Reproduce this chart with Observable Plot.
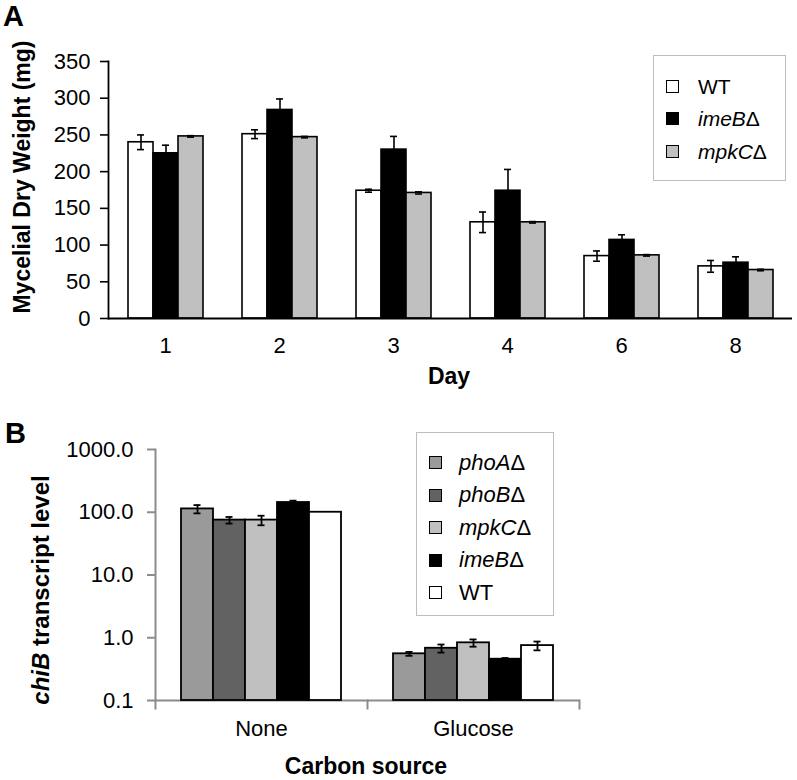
<!DOCTYPE html>
<html>
<head>
<meta charset="utf-8">
<script src="https://cdn.jsdelivr.net/npm/d3@7"></script>
<script src="https://cdn.jsdelivr.net/npm/@observablehq/plot@0.6"></script>
<style>
  body { margin: 0; background: white; }
  #root { position: relative; width: 797px; height: 780px; font-family: "Liberation Sans", Arial, sans-serif; color: black; overflow: hidden; }
  .abs { position: absolute; white-space: nowrap; line-height: 1; }
  .legend { position: absolute; border: 1.5px solid #bdbdbd; box-sizing: border-box; background: white; }
  .row { position: absolute; display: flex; align-items: center; }
  .sw { border: 1.5px solid black; box-sizing: border-box; }
</style>
</head>
<body>
<div id="root">
  <div id="plotA" class="abs" style="left:0;top:0"></div>
  <div id="plotB" class="abs" style="left:0;top:380px"></div>
</div>
<script>
// ---------- Panel A data ----------
const days = ["1", "2", "3", "4", "6", "8"];
const strainsA = ["WT", "imeBΔ", "mpkCΔ"];
const colorsA = ["white", "black", "#c0c0c0"];
const wtWeight = [240, 251, 174, 131, 85, 71];
const wtWeightErr = [10, 6, 2, 14, 7, 8];
const imeBWeight = [225, 284, 230, 174, 107, 76];
const imeBWeightErr = [11, 15, 18, 29, 7, 8];
const mpkCWeight = [248, 247, 171, 131, 86, 66];
const mpkCWeightErr = [1, 1, 1.5, 1, 1, 1];
const yTicksA = [0, 50, 100, 150, 200, 250, 300, 350];

// ---------- Panel B data ----------
const sources = ["None", "Glucose"];
const strainsB = ["phoAΔ", "phoBΔ", "mpkCΔ", "imeBΔ", "WT"];
const colorsB = ["#9a9a9a", "#626262", "#c0c0c0", "black", "white"];
const phoALevel = [113, 0.555];
const phoALevelErr = [17, 0.04];
const phoBLevel = [75, 0.68];
const phoBLevelErr = [9, 0.1];
const mpkCLevel = [75, 0.83];
const mpkCLevelErr = [13, 0.11];
const imeBLevel = [143, 0.455];
const imeBLevelErr = [10, 0.02];
const wtLevel = [100, 0.75];
const wtLevelErr = [0, 0.12];
const yTicksB = [0.1, 1, 10, 100, 1000];

const valsA = [wtWeight, imeBWeight, mpkCWeight];
const errsA = [wtWeightErr, imeBWeightErr, mpkCWeightErr];
const rowsA = days.flatMap((d, i) => strainsA.map((s, j) => ({day: d, strain: s, value: valsA[j][i], err: errsA[j][i]})));

const valsB = [phoALevel, phoBLevel, mpkCLevel, imeBLevel, wtLevel];
const errsB = [phoALevelErr, phoBLevelErr, mpkCLevelErr, imeBLevelErr, wtLevelErr];
const rowsB = sources.flatMap((c, i) => strainsB.map((s, j) => ({source: c, strain: s, value: valsB[j][i], err: errsB[j][i]})));

const font = "'Liberation Sans', Arial, sans-serif";

const plotA = Plot.plot({
  width: 797, height: 370,
  marginLeft: 106, marginRight: 4, marginTop: 61, marginBottom: 52,
  style: {fontFamily: font, fontSize: "22px", color: "black", background: "white", overflow: "visible"},
  fx: {domain: days, padding: 0, axis: null},
  x: {domain: strainsA, paddingInner: 0, paddingOuter: 0.77, axis: null},
  y: {domain: [0, 350], axis: null},
  color: {domain: strainsA, range: colorsA},
  marks: [
    Plot.barY(rowsA, {fx: "day", x: "strain", y: "value", fill: "strain", stroke: "black", strokeWidth: 1.6}),
    Plot.ruleX(rowsA, {fx: "day", x: "strain", y1: d => d.value - d.err, y2: d => d.value + d.err, stroke: "black", strokeWidth: 1.6}),
    Plot.tickY(rowsA, {fx: "day", x: "strain", y: d => d.value + d.err, inset: 9, stroke: "black", strokeWidth: 1.6}),
    Plot.tickY(rowsA, {fx: "day", x: "strain", y: d => d.value - d.err, inset: 9, stroke: "black", strokeWidth: 1.6}),
    Plot.ruleY([0], {stroke: "black", strokeWidth: 1.8}),
    Plot.frame({anchor: "left", facetAnchor: "left", stroke: "black", strokeWidth: 1.8}),
    Plot.axisY({ticks: yTicksA, tickSize: 8, tickPadding: 10, fontSize: 22, stroke: "black", strokeWidth: 1.6, label: null}),
    Plot.axisFx({anchor: "bottom", tickSize: 0, tickPadding: 19, fontSize: 22, label: null})
  ]
});
document.getElementById("plotA").appendChild(plotA);

const plotB = Plot.plot({
  width: 797, height: 400,
  marginLeft: 155, marginRight: 218, marginTop: 69, marginBottom: 80,
  style: {fontFamily: font, fontSize: "22px", color: "black", background: "white", overflow: "visible"},
  fx: {domain: sources, padding: 0, axis: null},
  x: {domain: strainsB, paddingInner: 0, paddingOuter: 0.75, axis: null},
  y: {type: "log", domain: [yTicksB[0], yTicksB[yTicksB.length - 1]], axis: null},
  color: {domain: strainsB, range: colorsB},
  marks: [
    Plot.ruleY([yTicksB[0]], {stroke: "#8c8c8c", strokeWidth: 2}),
    Plot.frame({anchor: "left", insetTop: 251, insetBottom: -8, stroke: "#8c8c8c", strokeWidth: 2}),
    Plot.frame({anchor: "right", facetAnchor: "right", insetTop: 251, insetBottom: -8, stroke: "#8c8c8c", strokeWidth: 2}),
    Plot.frame({anchor: "left", facetAnchor: "left", stroke: "#8c8c8c", strokeWidth: 2}),
    Plot.barY(rowsB, {fx: "source", x: "strain", y1: yTicksB[0], y2: "value", fill: "strain", stroke: "black", strokeWidth: 1.8}),
    Plot.ruleX(rowsB.filter(d => d.err > 0), {fx: "source", x: "strain", y1: d => d.value - d.err, y2: d => d.value + d.err, stroke: "black", strokeWidth: 1.8}),
    Plot.tickY(rowsB.filter(d => d.err > 0), {fx: "source", x: "strain", y: d => d.value + d.err, inset: 12.5, stroke: "black", strokeWidth: 1.8}),
    Plot.tickY(rowsB.filter(d => d.err > 0), {fx: "source", x: "strain", y: d => d.value - d.err, inset: 12.5, stroke: "black", strokeWidth: 1.8}),
    Plot.axisY({ticks: yTicksB, tickFormat: d3.format(".1f"), tickSize: 8, tickPadding: 14, fontSize: 22, stroke: "#8c8c8c", strokeWidth: 2, fill: "black", label: null}),
    Plot.axisFx({anchor: "bottom", tickSize: 0, tickPadding: 20, fontSize: 22, label: null})
  ]
});
document.getElementById("plotB").appendChild(plotB);

// ---------- HTML text and legends ----------
const root = document.getElementById("root");
function addText(html, style) {
  const el = document.createElement("div");
  el.className = "abs";
  el.innerHTML = html;
  el.setAttribute("style", style);
  root.appendChild(el);
  return el;
}
addText("A", "left:3px;top:2px;font-size:29px;font-weight:bold;");
addText("B", "left:5px;top:419px;font-size:29px;font-weight:bold;");
addText("Mycelial Dry Weight (mg)", "left:22px;top:177px;font-size:23px;font-weight:bold;transform:translate(-50%,-50%) rotate(-90deg);");
addText("Day", "left:449px;top:365px;font-size:23px;font-weight:bold;transform:translateX(-50%);");
addText("<i>chiB</i> transcript level", "left:41px;top:590px;font-size:24px;font-weight:bold;transform:translate(-50%,-50%) rotate(-90deg);");
addText("Carbon source", "left:366px;top:755px;font-size:23px;font-weight:bold;transform:translateX(-50%);");

function label(s) {
  return s.endsWith("Δ") ? "<i>" + s.slice(0, -1) + "</i>Δ" : s;
}
function legend(strains, colors, box, opts) {
  const lg = document.createElement("div");
  lg.className = "legend";
  lg.style.left = box.left + "px"; lg.style.top = box.top + "px";
  lg.style.width = box.width + "px"; lg.style.height = box.height + "px";
  strains.forEach((s, i) => {
    const row = document.createElement("div");
    row.className = "row";
    row.style.left = opts.swLeft + "px";
    row.style.top = (opts.first + i * opts.step - 15) + "px";
    row.style.height = "30px";
    const sw = document.createElement("div");
    sw.className = "sw";
    sw.style.width = opts.sw + "px"; sw.style.height = opts.sw + "px";
    sw.style.background = colors[i];
    const tx = document.createElement("div");
    tx.innerHTML = label(s);
    tx.style.marginLeft = opts.gap + "px";
    tx.style.fontSize = opts.fs + "px";
    tx.style.lineHeight = "1";
    row.appendChild(sw); row.appendChild(tx);
    lg.appendChild(row);
  });
  root.appendChild(lg);
}
legend(strainsA, colorsA, {left: 653, top: 55, width: 133, height: 126}, {swLeft: 12, first: 30, step: 32.5, sw: 13, gap: 19, fs: 21});
legend(strainsB, colorsB, {left: 416, top: 432, width: 138, height: 184}, {swLeft: 12, first: 29.5, step: 32.5, sw: 13, gap: 17, fs: 22});
</script>
</body>
</html>
